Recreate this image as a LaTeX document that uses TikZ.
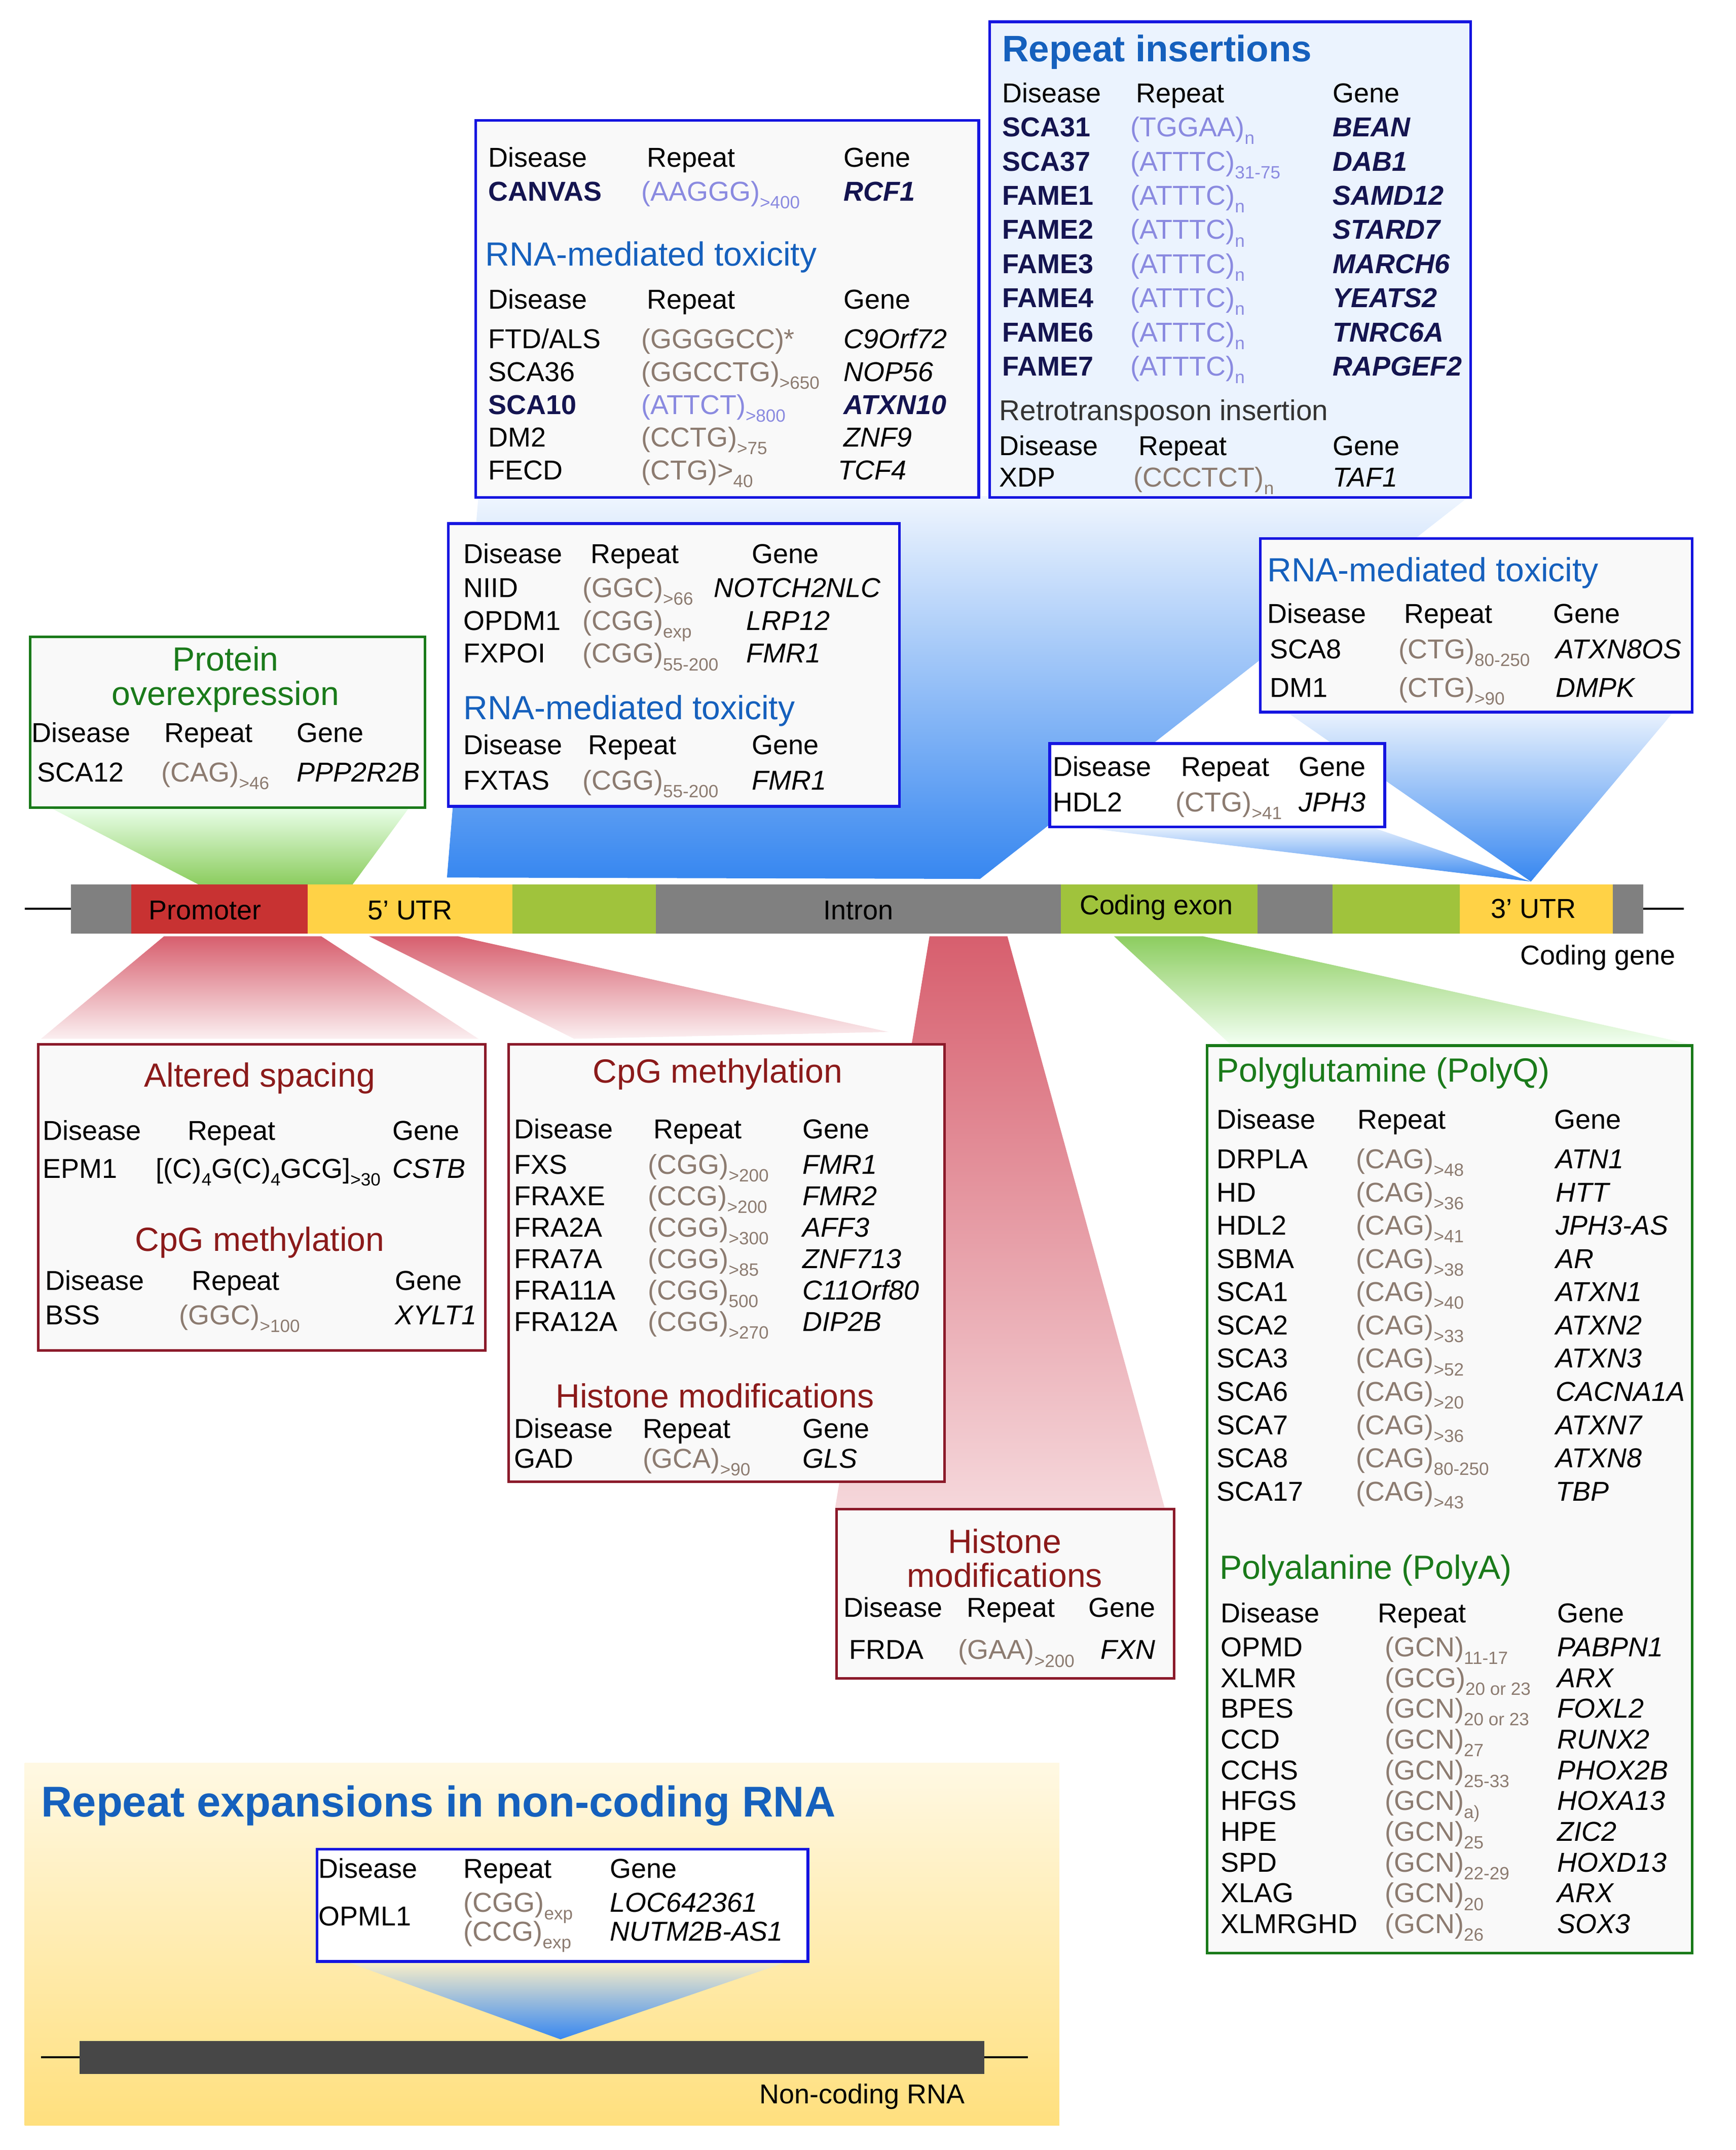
\documentclass[tikz,border=0pt]{standalone}
\usepackage{fontspec}
\setmainfont{Liberation Sans}
\definecolor{repc}{HTML}{8C7B70}
\definecolor{purp}{HTML}{8A8AE0}
\definecolor{navy}{HTML}{141450}
\definecolor{tblue}{HTML}{1560BD}
\definecolor{tgreen}{HTML}{1A7A1A}
\definecolor{tred}{HTML}{8B1A1A}
\definecolor{bblue}{HTML}{1414E0}
\definecolor{bred}{HTML}{8B1A2A}
\definecolor{fgray}{HTML}{F9F9F9}
\definecolor{sgray}{HTML}{808080}
\definecolor{sred}{HTML}{C83232}
\definecolor{syel}{HTML}{FFD246}
\definecolor{sgrn}{HTML}{A0C33C}
\definecolor{fblue}{HTML}{3787F0}
\definecolor{fgrn}{HTML}{8CCD5F}
\definecolor{fred}{HTML}{D75F6E}
\newcommand\sbx[1]{\raisebox{-0.28em}{\fontsize{13}{12}\selectfont #1}}
\newcommand\rep[2]{{\color{repc}(#1)\sbx{#2}}}
\newcommand\rpp[2]{{\color{purp}(#1)\sbx{#2}}}
\newcommand\bn[1]{\textbf{\color{navy}#1}}
\newcommand\bi[1]{\textbf{\textit{\color{navy}#1}}}
\newcommand\trow[7]{\node[T,anchor=base west] at (#2,#1+7) {#3};\node[T,anchor=base west] at (#4,#1+7) {#5};\node[T,anchor=base west] at (#6,#1+7) {#7};}
\begin{document}
\begin{tikzpicture}[x=1pt,y=-1pt,
 T/.style={font=\fontsize{20}{24}\selectfont,inner sep=0},
 TT/.style={font=\fontsize{24.5}{25}\selectfont,inner sep=0,align=center},
 box/.style={draw,line width=2pt,fill=fgray}]
\useasboundingbox (0,0) rectangle (1270,1573);
% funnels
\shade[top color=green!8,bottom color=fgrn] (35,590)--(300,590)--(258,647)--(145,647)--cycle;
\shade[top color=fblue!8,bottom color=fblue] (327,642)--(350,363)--(1075,363)--(717,643)--cycle;
\shade[top color=fblue!10,bottom color=fblue] (940,520)--(1225,520)--(1120,645)--cycle;
\shade[top color=fblue!10,bottom color=fblue] (780,604)--(1000,604)--(1120,645)--cycle;
\shade[top color=fred,bottom color=fred!10] (120,685)--(235,685)--(350,760)--(30,760)--cycle;
\shade[top color=fred,bottom color=fred!10] (270,685)--(335,685)--(650,755)--(420,760)--cycle;
\shade[top color=fred,bottom color=fred!25] (680,685)--(737,685)--(852,1103)--(611,1103)--cycle;
\shade[top color=fgrn,bottom color=green!5] (815,685)--(880,685)--(1237,764)--(900,764)--cycle;
% non-coding panel
\shade[top color={syel!15},bottom color={syel!70}] (18,1290) rectangle (775,1555);
\shade[top color=syel!30,bottom color=fblue] (250,1434)--(580,1434)--(410,1492)--cycle;
\draw[line width=1.5pt] (30,1505)--(752,1505);
\node[draw=none,fill=black!72,minimum width=662,minimum height=24,inner sep=0,anchor=north west] (ncbar) at (58,1493) {};
\node[T,anchor=base east] (nclab) at (706,1539) {Non-coding RNA};
\node[font=\fontsize{31.5}{34}\selectfont\bfseries,text=tblue,inner sep=0,anchor=base west] (nctitle) at (30,1329) {Repeat expansions in non-coding RNA};
\node[box,draw=bblue,fill=white,minimum width=359,minimum height=82,inner sep=0,anchor=north west] (ncbox) at (231,1352) {};
\trow{1367}{233}{Disease}{339}{Repeat}{446}{Gene}
\node[T,anchor=base west] at (233,1409) {OPML1};
\trow{1392}{339}{\rep{CGG}{exp}}{446}{\textit{LOC642361}}{446}{}
\trow{1413}{339}{\rep{CCG}{exp}}{446}{\textit{NUTM2B-AS1}}{446}{}
% gene bar
\draw[line width=1.5pt] (18,665)--(1232,665);
\foreach \a/\b/\c in {52/96/sgray,96/225/sred,225/375/syel,375/480/sgrn,480/776/sgray,776/920/sgrn,920/975/sgray,975/1068/sgrn,1068/1180/syel,1180/1202/sgray}
 \fill[\c] (\a,647) rectangle (\b,683);
\node[T] (prom) at (150,666) {Promoter};
\node[T] (utr5) at (300,666) {5' UTR};
\node[T] (intr) at (628,666) {Intron};
\node[T] (cex) at (846,664) {Coding exon};
\node[T] (utr3) at (1122,665) {3' UTR};
\node[T,anchor=base east] (cg) at (1226,706) {Coding gene};
% Box 1 protein overexpression
\node[box,draw=tgreen,minimum width=289,minimum height=125,inner sep=0,anchor=north west] (b1) at (21,465) {};
\node[TT,text=tgreen] at (165,497) {Protein\\overexpression};
\trow{536}{23}{Disease}{120}{Repeat}{217}{Gene}
\trow{565}{27}{SCA12}{118}{\rep{CAG}{>46}}{217}{\textit{PPP2R2B}}
% Box 2
\node[box,draw=bblue,minimum width=368,minimum height=276,inner sep=0,anchor=north west] (b2) at (347,87) {};
\trow{115}{357}{Disease}{473}{Repeat}{617}{Gene}
\trow{140}{357}{\bn{CANVAS}}{469}{\rpp{AAGGG}{>400}}{617}{\bi{RCF1}}
\node[TT,text=tblue,anchor=west] at (355,188) {RNA-mediated toxicity};
\trow{219}{357}{Disease}{473}{Repeat}{617}{Gene}
\trow{248}{357}{FTD/ALS}{469}{{\color{repc}(GGGGCC)*}}{617}{\textit{C9Orf72}}
\trow{272}{357}{SCA36}{469}{\rep{GGCCTG}{>650}}{617}{\textit{NOP56}}
\trow{296}{357}{\bn{SCA10}}{469}{\rpp{ATTCT}{>800}}{617}{\bi{ATXN10}}
\trow{320}{357}{DM2}{469}{\rep{CCTG}{>75}}{617}{\textit{ZNF9}}
\trow{344}{357}{FECD}{469}{{\color{repc}(CTG)>\sbx{40}}}{613}{\textit{TCF4}}
% Box 3 repeat insertions
\node[box,draw=bblue,fill=fblue!10,minimum width=352,minimum height=348,inner sep=0,anchor=north west] (b3) at (723,15) {};
\node[font=\fontsize{27}{30}\selectfont\bfseries,text=tblue,inner sep=0,anchor=west] at (733,38) {Repeat insertions};
\trow{68}{733}{Disease}{831}{Repeat}{975}{Gene}
\foreach \d/\r/\s/\g [count=\i from 0] in {SCA31/TGGAA/n/BEAN,SCA37/ATTTC/31-75/DAB1,FAME1/ATTTC/n/SAMD12,FAME2/ATTTC/n/STARD7,FAME3/ATTTC/n/MARCH6,FAME4/ATTTC/n/YEATS2,FAME6/ATTTC/n/TNRC6A,FAME7/ATTTC/n/RAPGEF2}
 {\trow{93+25*\i}{733}{\bn{\d}}{827}{\rpp{\r}{\s}}{975}{\bi{\g}}}
\node[T,font=\fontsize{21}{24}\selectfont,text=black!80,anchor=west] at (731,302) {Retrotransposon insertion};
\trow{326}{731}{Disease}{833}{Repeat}{975}{Gene}
\trow{349}{731}{XDP}{829}{\rep{CCCTCT}{n}}{975}{\textit{TAF1}}
% Box 4
\node[box,draw=bblue,minimum width=330,minimum height=207,inner sep=0,anchor=north west] (b4) at (327,382) {};
\trow{405}{339}{Disease}{432}{Repeat}{550}{Gene}
\trow{430}{339}{NIID}{426}{\rep{GGC}{>66}}{522}{\textit{NOTCH2NLC}}
\trow{454}{339}{OPDM1}{426}{\rep{CGG}{exp}}{546}{\textit{LRP12}}
\trow{478}{339}{FXPOI}{426}{\rep{CGG}{55-200}}{546}{\textit{FMR1}}
\node[TT,text=tblue,anchor=west] at (339,520) {RNA-mediated toxicity};
\trow{545}{339}{Disease}{430}{Repeat}{550}{Gene}
\trow{571}{339}{FXTAS}{426}{\rep{CGG}{55-200}}{550}{\textit{FMR1}}
% Box 5
\node[box,draw=bblue,minimum width=316,minimum height=127,inner sep=0,anchor=north west] (b5) at (921,393) {};
\node[TT,text=tblue,anchor=west] at (927,419) {RNA-mediated toxicity};
\trow{449}{927}{Disease}{1027}{Repeat}{1136}{Gene}
\trow{475}{929}{SCA8}{1023}{\rep{CTG}{80-250}}{1138}{\textit{ATXN8OS}}
\trow{503}{929}{DM1}{1023}{\rep{CTG}{>90}}{1138}{\textit{DMPK}}
% Box 6
\node[box,draw=bblue,fill=white,minimum width=245,minimum height=61,inner sep=0,anchor=north west] (b6) at (767,543) {};
\trow{561}{770}{Disease}{864}{Repeat}{950}{Gene}
\trow{587}{770}{HDL2}{860}{\rep{CTG}{>41}}{950}{\textit{JPH3}}
% Box 7
\node[box,draw=bred,minimum width=327,minimum height=224,inner sep=0,anchor=north west] (b7) at (27,763) {};
\node[TT,text=tred] at (190,789) {Altered spacing};
\trow{827}{31}{Disease}{137}{Repeat}{287}{Gene}
\trow{855}{31}{EPM1}{114}{[(C)\sbx{4}G(C)\sbx{4}GCG]\sbx{>30}}{287}{\textit{CSTB}}
\node[TT,text=tred] at (190,909) {CpG methylation};
\trow{937}{33}{Disease}{140}{Repeat}{289}{Gene}
\trow{962}{33}{BSS}{131}{\rep{GGC}{>100}}{289}{\textit{XYLT1}}
% Box 8
\node[box,draw=bred,minimum width=319,minimum height=320,inner sep=0,anchor=north west] (b8) at (371,763) {};
\node[TT,text=tred] at (525,786) {CpG methylation};
\trow{826}{376}{Disease}{478}{Repeat}{587}{Gene}
\foreach \d/\r/\s/\g [count=\i from 0] in {FXS/CGG/>200/FMR1,FRAXE/CCG/>200/FMR2,FRA2A/CGG/>300/AFF3,FRA7A/CGG/>85/ZNF713,FRA11A/CGG/500/C11Orf80,FRA12A/CGG/>270/DIP2B}
 {\trow{852+23*\i}{376}{\d}{474}{\rep{\r}{\s}}{587}{\textit{\g}}}
\node[TT,text=tred] at (523,1021) {Histone modifications};
\trow{1045}{376}{Disease}{470}{Repeat}{587}{Gene}
\trow{1067}{376}{GAD}{470}{\rep{GCA}{>90}}{587}{\textit{GLS}}
% Box 9
\node[box,draw=bred,minimum width=247,minimum height=124,inner sep=0,anchor=north west] (b9) at (611,1103) {};
\node[TT,text=tred] at (735,1140) {Histone\\modifications};
\trow{1176}{617}{Disease}{707}{Repeat}{796}{Gene}
\trow{1207}{621}{FRDA}{701}{\rep{GAA}{>200}}{805}{\textit{FXN}}
% Box 10
\node[box,draw=tgreen,minimum width=355,minimum height=664,inner sep=0,anchor=north west] (b10) at (882,764) {};
\node[TT,text=tgreen,anchor=west] at (890,785) {Polyglutamine (PolyQ)};
\trow{819}{890}{Disease}{993}{Repeat}{1137}{Gene}
\foreach \d/\s/\g [count=\i from 0] in {DRPLA/>48/ATN1,HD/>36/HTT,HDL2/>41/JPH3-AS,SBMA/>38/AR,SCA1/>40/ATXN1,SCA2/>33/ATXN2,SCA3/>52/ATXN3,SCA6/>20/CACNA1A,SCA7/>36/ATXN7,SCA8/80-250/ATXN8,SCA17/>43/TBP}
 {\trow{848+24.3*\i}{890}{\d}{992}{\rep{CAG}{\s}}{1138}{\textit{\g}}}
\node[TT,text=tgreen,anchor=west] at (892,1149) {Polyalanine (PolyA)};
\trow{1180}{893}{Disease}{1008}{Repeat}{1139}{Gene}
\foreach \d/\r/\s/\g [count=\i from 0] in {OPMD/GCN/11-17/PABPN1,XLMR/GCG/20 or 23/ARX,BPES/GCN/20 or 23/FOXL2,CCD/GCN/27/RUNX2,CCHS/GCN/25-33/PHOX2B,HFGS/GCN/a)/HOXA13,HPE/GCN/25/ZIC2,SPD/GCN/22-29/HOXD13,XLAG/GCN/20/ARX,XLMRGHD/GCN/26/SOX3}
 {\trow{1205+22.5*\i}{893}{\d}{1013}{\rep{\r}{\s}}{1139}{\textit{\g}}}
\end{tikzpicture}
\end{document}
